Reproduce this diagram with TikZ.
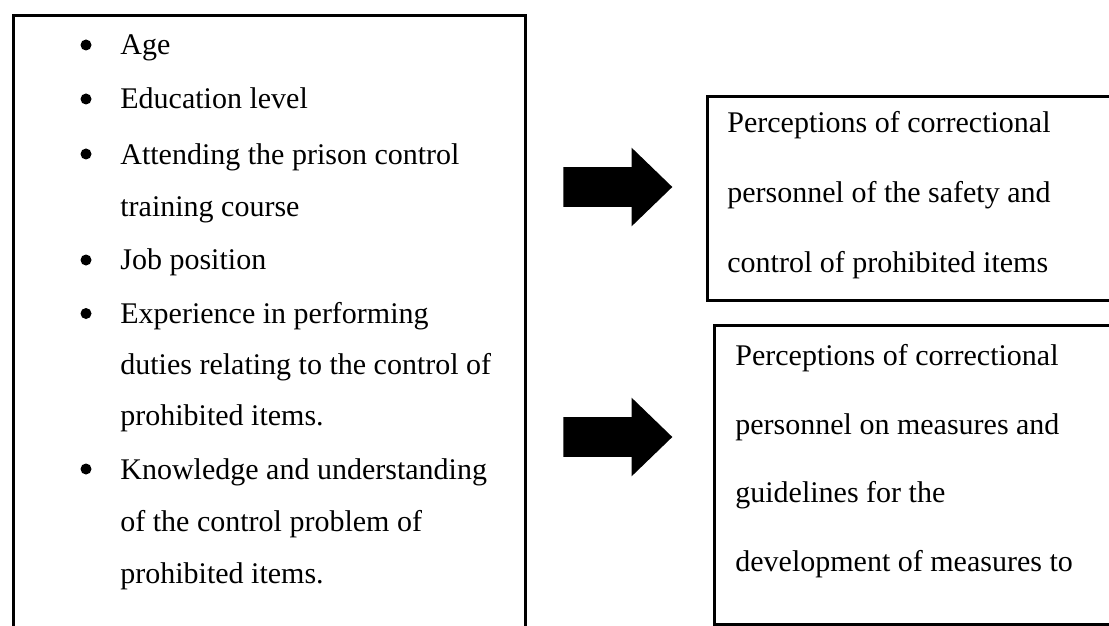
\documentclass[tikz,border=0pt]{standalone}
\usepackage{fontspec}
\setmainfont{Liberation Serif}
\usetikzlibrary{shapes.arrows}
\tikzstyle{box}    = [draw,
                      line width=1.5pt,
                      inner sep=0pt,
                      anchor=north west]
\tikzstyle{line}   = [anchor=base west,
                      inner sep=0pt,
                      font=\fontsize{15}{18}\selectfont]
\tikzstyle{dot}    = [circle,
                      fill=black,
                      inner sep=0pt,
                      minimum size=5.5pt]
\tikzstyle{bigarrow} = [single arrow,
                        fill=black,
                        inner sep=0pt,
                        text height=19.5pt,
                        text depth=0pt,
                        minimum height=54.5pt,
                        single arrow head extend=9.75pt,
                        single arrow tip angle=88,
                        single arrow head indent=0pt]
\begin{document}
\begin{tikzpicture}[x=0.5pt, y=-0.5pt]

  \useasboundingbox (0,0) rectangle (1109,626);
  \clip (0,0) rectangle (1109,626);

  % Boxes
  \node[box, minimum width=256pt, minimum height=320pt] (factors) at (12,14) {};
  \node[box, minimum width=210pt, minimum height=102pt] (safety)  at (706,95) {};
  \node[box, minimum width=210pt, minimum height=149.5pt] (measures) at (713,324) {};

  % Bullets
  \node[dot] (b1) at (86,45)    {};
  \node[dot] (b2) at (86,99)    {};
  \node[dot] (b3) at (86,154)   {};
  \node[dot] (b4) at (86,260)   {};
  \node[dot] (b5) at (86,313.5) {};
  \node[dot] (b6) at (86,469)   {};

  % Items
  \node[line] (age)   at (120,55)    {Age};
  \node[line] (edu)   at (120,109)   {Education level};
  \node[line] (crs1)  at (120,164)   {Attending the prison control};
  \node[line] (crs2)  at (120,216.5) {training course};
  \node[line] (job)   at (120,270)   {Job position};
  \node[line] (exp1)  at (120,323.5) {Experience in performing};
  \node[line] (exp2)  at (120,374.5) {duties relating to the control of};
  \node[line] (exp3)  at (120,425.5) {prohibited items.};
  \node[line] (know1) at (120,479)   {Knowledge and understanding};
  \node[line] (know2) at (120,531)   {of the control problem of};
  \node[line] (know3) at (120,583)   {prohibited items.};

  % Results
  \node[line] (percA1) at (727,133)   {Perceptions of correctional};
  \node[line] (percA2) at (727,202.5) {personnel of the safety and};
  \node[line] (percA3) at (727,272)   {control of prohibited items};
  \node[line] (percB1) at (735,365)   {Perceptions of correctional};
  \node[line] (percB2) at (735,434)   {personnel on measures and};
  \node[line] (percB3) at (735,502)   {guidelines for the};
  \node[line] (percB4) at (735,571)   {development of measures to};

  % Arrows
  \node[bigarrow] (arrowA) at (607.5,187) {};
  \node[bigarrow] (arrowB) at (607.5,437) {};

\end{tikzpicture}
\end{document}
